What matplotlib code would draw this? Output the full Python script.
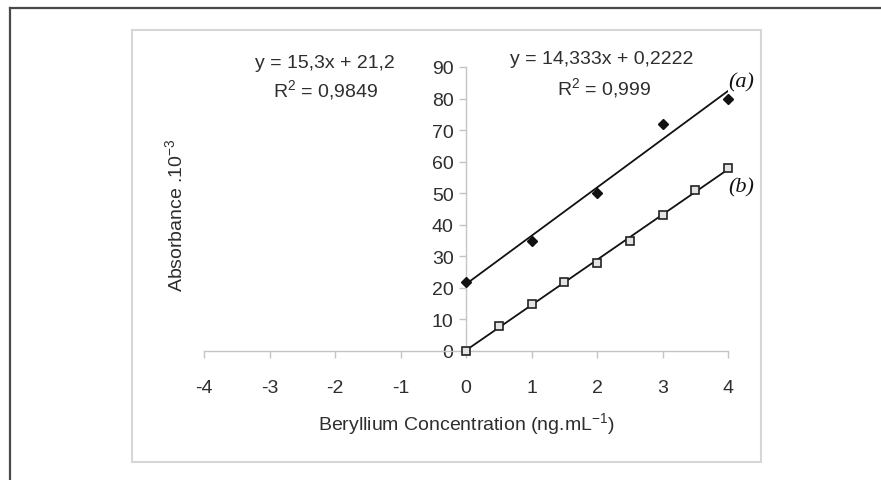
import numpy as np
import matplotlib
matplotlib.use('Agg')
import matplotlib.pyplot as plt
from matplotlib.patches import Rectangle
from matplotlib.lines import Line2D

plt.rcParams['font.family'] = ['Liberation Sans', 'DejaVu Sans']
plt.rcParams['mathtext.fontset'] = 'custom'
plt.rcParams['mathtext.rm'] = 'Liberation Sans'
plt.rcParams['mathtext.it'] = 'Liberation Sans:italic'

# series (a): black diamonds
conc_a = [0, 1, 2, 3, 4]
abs_a = [22, 35, 50, 72, 80]

# series (b): open squares
conc_b = [0, 0.5, 1, 1.5, 2, 2.5, 3, 3.5, 4]
abs_b = [0, 8, 15, 22, 28, 35, 43, 51, 58]

xticks = [-4, -3, -2, -1, 0, 1, 2, 3, 4]
yticks = [0, 10, 20, 30, 40, 50, 60, 70, 80, 90]

W, H = 881, 481
txt = '#2e2e2e'
axis_grey = '#c4c4c4'


def px(x, y):
    # pixel position -> figure fraction
    return x / W, 1 - y / H


fig = plt.figure(figsize=(8.81, 4.81), dpi=100)

# outer page frame (top and left edges) and inner chart box
fig.add_artist(Line2D([10 / W, 1], [1 - 9 / H, 1 - 9 / H], color='#4a4a4a', lw=1.6))
fig.add_artist(Line2D([10 / W, 10 / W], [0, 1 - 9 / H], color='#4a4a4a', lw=1.6))
x0, y0 = px(132, 463)
x1, y1 = px(761, 31)
fig.add_artist(Rectangle((x0, y0), x1 - x0, y1 - y0, fill=False,
                         edgecolor='#d6d6d6', lw=1.5))

ax = fig.add_axes([204 / W, (H - 352) / H, 524 / W, 284 / H])
ax.set_xlim(-4, 4)
ax.set_ylim(0, 90)

for side in ['top', 'right']:
    ax.spines[side].set_visible(False)
ax.spines['left'].set_position(('data', 0))
ax.spines['bottom'].set_position(('data', 0))
for side in ['left', 'bottom']:
    ax.spines[side].set_color(axis_grey)
    ax.spines[side].set_linewidth(1.0)

ax.set_xticks(xticks)
ax.set_yticks(yticks)
ax.tick_params(axis='both', colors=axis_grey, length=5, width=1, labelcolor=txt,
               labelsize=14)
ax.tick_params(axis='x', pad=15)
ax.tick_params(axis='y', pad=4)
ax.set_xticklabels([str(t) for t in xticks])
ax.set_yticklabels([str(t) for t in yticks])

# trend lines from least squares fit
fit_a = np.polyfit(conc_a, abs_a, 1)
fit_b = np.polyfit(conc_b, abs_b, 1)
xx = np.array([0, 4])
ax.plot(xx, np.polyval(fit_a, xx), color='#111111', lw=1.3, zorder=2)
ax.plot(xx, np.polyval(fit_b, xx), color='#111111', lw=1.3, zorder=2)

ax.plot(conc_a, abs_a, linestyle='none', marker='D', markersize=5,
        color='#111111', clip_on=False, zorder=3)
ax.plot(conc_b, abs_b, linestyle='none', marker='s', markersize=5.5,
        markerfacecolor='#e4e4e4', markeredgecolor='#222222', markeredgewidth=1.2,
        clip_on=False, zorder=3)

# equations
fig.text(*px(325, 63), 'y = 15,3x + 21,2', ha='center', va='center',
         fontsize=14, color=txt)
fig.text(*px(326, 90), 'R$^2$ = 0,9849', ha='center', va='center',
         fontsize=14, color=txt)
fig.text(*px(602, 60), 'y = 14,333x + 0,2222', ha='center', va='center',
         fontsize=14, color=txt)
fig.text(*px(604, 88), 'R$^2$ = 0,999', ha='center', va='center',
         fontsize=14, color=txt)

# series labels
fig.text(*px(741, 83), '(a)', ha='center', va='center', fontsize=16,
         style='italic', family='Liberation Serif', color='#111111')
fig.text(*px(741, 188), '(b)', ha='center', va='center', fontsize=16,
         style='italic', family='Liberation Serif', color='#111111')

# axis titles
fig.text(*px(175, 215), 'Absorbance .10$^{-3}$', rotation=90, ha='center',
         va='center', fontsize=14, color=txt)
fig.text(*px(466, 424), 'Beryllium Concentration (ng.mL$^{-1}$)', ha='center',
         va='center', fontsize=14, color=txt)

fig.savefig('out.png', dpi=100)
